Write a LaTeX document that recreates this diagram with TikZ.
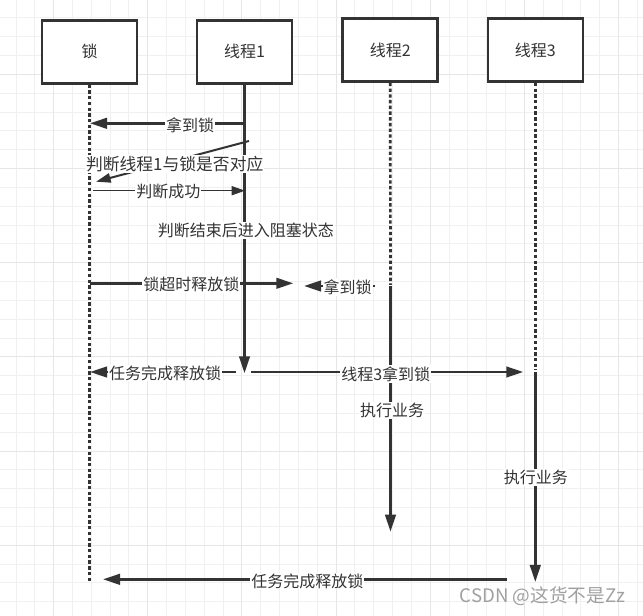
\documentclass[tikz,border=0pt]{standalone}
\usepackage{fontspec}
\setmainfont{Noto Sans CJK SC}
\usetikzlibrary{arrows.meta}
\definecolor{ink}{HTML}{333333}
\definecolor{gridminor}{HTML}{F0F0F0}
\definecolor{gridmajor}{HTML}{E6E6E6}
\definecolor{wmgray}{HTML}{A0A0A0}
\tikzset{
  actor/.style={draw=ink, fill=white, line width=1.95pt, minimum width=71.25pt, minimum height=47.25pt, inner sep=0pt, text=ink, font=\fontsize{12}{14}\selectfont},
  lifesolid/.style={draw=ink, line width=1.95pt},
  lifedot/.style={draw=ink, line width=2pt, dash pattern=on 2.5pt off 1.8pt},
  lifearrow/.style={draw=ink, line width=1.95pt, -{Triangle[length=12.75pt, width=7.9pt]}},
  msg/.style={draw=ink, line width=1.95pt, -{Triangle[length=12.75pt, width=7.9pt]}},
  diagmsg/.style={draw=ink, line width=1.5pt, -{Triangle[length=11pt, width=7pt]}},
  thinmsg/.style={draw=ink, line width=1pt, -{Triangle[length=10pt, width=6.8pt]}},
  lbl/.style={fill=white, inner sep=0.75pt, text=ink, font=\fontsize{12}{14}\selectfont},
  biglbl/.style={fill=white, inner sep=0.75pt, text=ink, font=\fontsize{12.6}{15}\selectfont},
  wmark/.style={inner sep=0pt, text=wmgray, font=\fontsize{14}{16}\selectfont},
}
\begin{document}
\begin{tikzpicture}[x=0.75pt, y=-0.75pt]
\useasboundingbox (0,0) rectangle (643,616);
\fill[white] (0,0) rectangle (643,616);
% grid
\foreach \k in {0,...,33} {
  \pgfmathsetmacro\xx{16+18.83*\k}
  \draw[gridminor, line width=0.75pt] (\xx,0) -- (\xx,616);
}
\foreach \k in {0,...,31} {
  \pgfmathsetmacro\yy{18+18.83*\k}
  \draw[gridminor, line width=0.75pt] (0,\yy) -- (643,\yy);
}
\foreach \k in {2,7,...,32} {
  \pgfmathsetmacro\xx{16+18.83*\k}
  \draw[gridmajor, line width=0.75pt] (\xx,0) -- (\xx,616);
}
\foreach \k in {3,8,...,28} {
  \pgfmathsetmacro\yy{18+18.83*\k}
  \draw[gridmajor, line width=0.75pt] (0,\yy) -- (643,\yy);
}
% actors
\node[actor] (lock) at (89.5,51.8) {锁};
\node[actor] (t1) at (244.5,51.8) {线程1};
\node[actor] (t2) at (390.2,50) {线程2};
\node[actor] (t3) at (535.3,50) {线程3};
% lifeline points
\coordinate (lockEnd) at (89.5,581.7);
\coordinate (t1End) at (244.5,373.3);
\coordinate (t2Split) at (390.5,285);
\coordinate (t2Solid) at (390.5,286.5);
\coordinate (t2End) at (390.5,531.7);
\coordinate (t3Split) at (535.3,370.5);
\coordinate (t3Solid) at (535.3,372);
\coordinate (t3End) at (535.3,582);
% lifelines
\draw[lifedot] (lock.south) -- (lockEnd);
\draw[lifearrow] (t1.south) -- (t1End);
\draw[lifedot] (t2.south) -- (t2Split);
\draw[lifearrow] (t2Solid) -- (t2End);
\draw[lifedot] (t3.south) -- (t3Split);
\draw[lifearrow] (t3Solid) -- (t3End);
% message points
\coordinate (m1s) at (244.5,123.3); \coordinate (m1e) at (90,123.3);
\coordinate (m2s) at (249,141);     \coordinate (m2e) at (96,181.7);
\coordinate (m3s) at (93.3,190.7);  \coordinate (m3e) at (245,190.7);
\coordinate (m5s) at (89.5,283.3);  \coordinate (m5e) at (293.3,283.3);
\coordinate (m6s) at (375,286);     \coordinate (m6e) at (304,286);
\coordinate (m7s) at (236,372);     \coordinate (m7e) at (90,372);
\coordinate (m8s) at (251,372);     \coordinate (m8e) at (523.3,372);
\coordinate (m11s) at (506.7,579.3); \coordinate (m11e) at (103,579.3);
% messages
\draw[msg] (m1s) -- (m1e);
\draw[diagmsg] (m2s) -- (m2e);
\draw[thinmsg] (m3s) -- (m3e);
\draw[msg] (m5s) -- (m5e);
\draw[msg] (m6s) -- (m6e);
\draw[msg] (m7s) -- (m7e);
\draw[msg] (m8s) -- (m8e);
\draw[msg] (m11s) -- (m11e);
% labels
\node[lbl] (l1) at (190,125) {拿到锁};
\node[biglbl] (l2) at (174.7,164) {判断线程1与锁是否对应};
\node[lbl] (l3) at (168.3,191.7) {判断成功};
\node[lbl] (l4) at (245.8,230.7) {判断结束后进入阻塞状态};
\node[lbl] (l5) at (191.3,284.5) {锁超时释放锁};
\node[lbl] (l6) at (347.5,287) {拿到锁};
\node[lbl] (l7) at (165,373) {任务完成释放锁};
\node[lbl] (l8) at (385.8,374) {线程3拿到锁};
\node[lbl] (l9) at (392.2,410.7) {执行业务};
\node[lbl] (l10) at (535.8,477.7) {执行业务};
\node[lbl] (l11) at (307.4,581) {任务完成释放锁};
\node[wmark] (wm) at (542.5,596) {CSDN @这货不是Zz};
\end{tikzpicture}
\end{document}
